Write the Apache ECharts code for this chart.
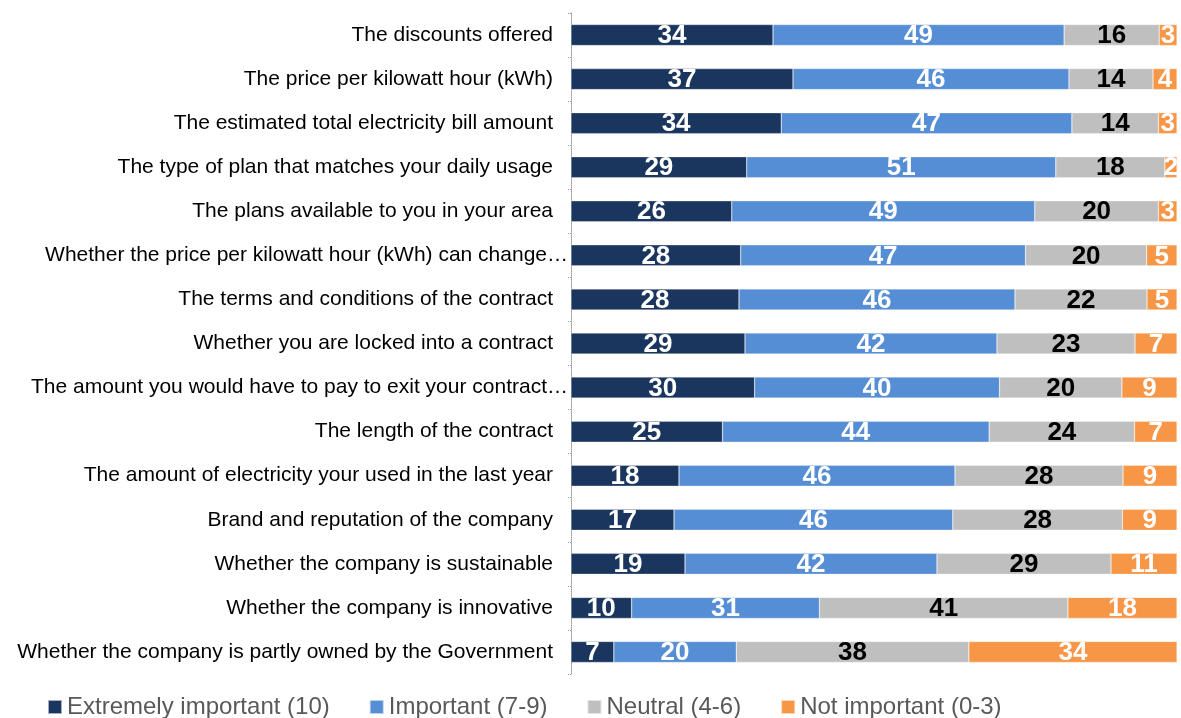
<!DOCTYPE html>
<html>
<head>
<meta charset="utf-8">
<script src="https://cdn.jsdelivr.net/npm/echarts@6/dist/echarts.min.js"></script>
<style>
  html, body { margin: 0; padding: 0; background: #fff; }
  #chart { width: 1181px; height: 718px; }
</style>
</head>
<body>
<div id="chart"></div>
<script>
// Survey items, top to bottom (a trailing "…" marks an item shortened in the source)
const categories = [
  'The discounts offered',
  'The price per kilowatt hour (kWh)',
  'The estimated total electricity bill amount',
  'The type of plan that matches your daily usage',
  'The plans available to you in your area',
  'Whether the price per kilowatt hour (kWh) can change…',
  'The terms and conditions of the contract',
  'Whether you are locked into a contract',
  'The amount you would have to pay to exit your contract…',
  'The length of the contract',
  'The amount of electricity your used in the last year',
  'Brand and reputation of the company',
  'Whether the company is sustainable',
  'Whether the company is innovative',
  'Whether the company is partly owned by the Government'
];

// Percentage of respondents in each importance band
const extremelyImportant = [34, 37, 34, 29, 26, 28, 28, 29, 30, 25, 18, 17, 19, 10, 7];
const important          = [49, 46, 47, 51, 49, 47, 46, 42, 40, 44, 46, 46, 42, 31, 20];
const neutral            = [16, 14, 14, 18, 20, 20, 22, 23, 20, 24, 28, 28, 29, 41, 38];
const notImportant       = [3, 4, 3, 2, 3, 5, 5, 7, 9, 7, 9, 9, 11, 18, 34];

const seriesNames = ['Extremely important (10)', 'Important (7-9)', 'Neutral (4-6)', 'Not important (0-3)'];
const seriesColors = ['#1b365e', '#558ed5', '#bfbfbf', '#f79646'];
const labelColors = ['#ffffff', '#ffffff', '#000000', '#ffffff'];
const bands = [extremelyImportant, important, neutral, notImportant];

// Each bar is scaled to the full width (100% stacked); labels show the reported value
const rowTotals = categories.map((_, i) => bands.reduce((s, b) => s + b[i], 0));

const FONT = 'Liberation Sans, Arial, sans-serif';

const series = bands.map((band, k) => ({
  name: seriesNames[k],
  type: 'bar',
  stack: 'total',
  barWidth: 21,
  itemStyle: { color: seriesColors[k], borderColor: 'rgba(255,255,255,0.6)', borderWidth: 0.5 },
  label: {
    show: true,
    position: 'inside',
    offset: [0, 1],
    color: labelColors[k],
    fontFamily: FONT,
    fontWeight: 'bold',
    fontSize: 26,
    formatter: p => p.data.raw
  },
  emphasis: { disabled: true },
  data: band.map((v, i) => ({ value: v / rowTotals[i] * 100, raw: v }))
}));

const chart = echarts.init(document.getElementById('chart'), null, { renderer: 'canvas' });
chart.setOption({
  animation: false,
  backgroundColor: '#ffffff',
  grid: { left: 571, right: 4, top: 13, bottom: 44, containLabel: false },
  legend: {
    left: 47,
    top: 695,
    padding: 0,
    icon: 'rect',
    itemWidth: 14,
    itemHeight: 14,
    itemGap: 39,
    textStyle: { color: '#595959', fontSize: 24, fontFamily: FONT },
    data: seriesNames
  },
  xAxis: {
    type: 'value',
    min: 0,
    max: 100,
    show: false
  },
  yAxis: {
    type: 'category',
    inverse: true,
    data: categories,
    axisLine: { show: true, lineStyle: { color: '#9a9a9a', type: 'dotted', width: 1 } },
    axisTick: { show: true, length: 4, lineStyle: { color: '#9a9a9a', type: 'dotted' } },
    axisLabel: {
      margin: 3,
      formatter: v => v.endsWith('…') ? '{t|' + v + '}' : '{n|' + v + '}',
      rich: {
        n: { color: '#000000', fontSize: 21, fontFamily: FONT, padding: [0, 15, 0, 0] },
        t: { color: '#000000', fontSize: 21, fontFamily: FONT }
      }
    }
  },
  series: series
});
</script>
</body>
</html>
